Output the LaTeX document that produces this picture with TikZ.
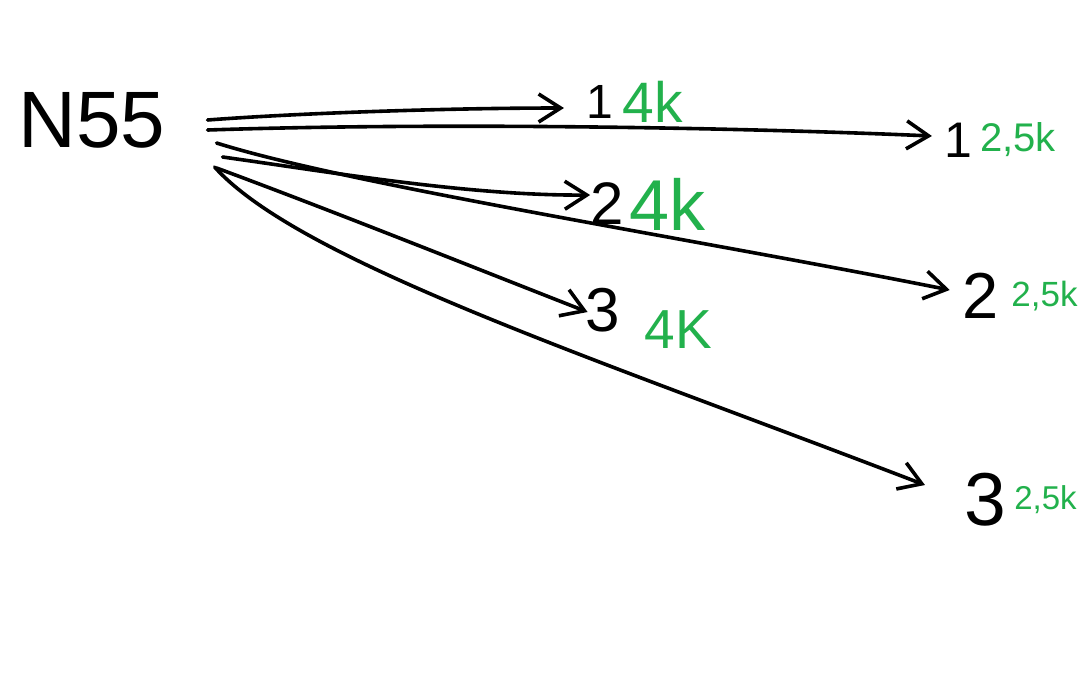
\documentclass[tikz,border=0pt]{standalone}
\usepackage{fontspec}
\setmainfont{Liberation Sans}
\usetikzlibrary{positioning,arrows.meta}
\definecolor{paintgreen}{RGB}{34,177,76}

\tikzset{
  arr/.style={line width=3.6pt, line cap=round, line join=round,
    -{Straight Barb[length=22pt,width=28pt,line width=3.6pt]}},
  digit/.style={inner sep=0pt},
  amount/.style={inner sep=0pt, text=paintgreen},
}

\begin{document}
\begin{tikzpicture}[x=1pt,y=-1pt]
  \useasboundingbox[fill=white] (0,0) rectangle (1083,697);

  % source
  \node[inner sep=0pt, font=\fontsize{80}{80}\selectfont] (n55) at (92,120) {N55};

  % targets, 4k
  \node[digit, font=\fontsize{48}{48}\selectfont] (d1a) at (600,102) {1};
  \node[amount, font=\fontsize{57}{57}\selectfont, right=9pt of d1a] (g1a) {4k};
  \node[digit, font=\fontsize{60}{60}\selectfont] (d2a) at (607,204) {2};
  \node[amount, font=\fontsize{72}{72}\selectfont, right=5pt of d2a] (g2a) {4k};
  \node[digit, font=\fontsize{62}{62}\selectfont] (d3a) at (603,310) {3};
  \node[amount, font=\fontsize{55}{55}\selectfont, right=24pt of d3a, yshift=-20pt] (g3a) {4K};

  % targets, 2,5k
  \node[digit, font=\fontsize{50}{50}\selectfont] (d1b) at (958,140) {1};
  \node[amount, font=\fontsize{40}{40}\selectfont, right=8pt of d1b] (g1b) {2,5k};
  \node[digit, font=\fontsize{65}{65}\selectfont] (d2b) at (981,296) {2};
  \node[amount, font=\fontsize{35}{35}\selectfont, right=12pt of d2b] (g2b) {2,5k};
  \node[digit, font=\fontsize{75}{75}\selectfont] (d3b) at (985,500) {3};
  \node[amount, font=\fontsize{33}{33}\selectfont, right=8pt of d3b] (g3b) {2,5k};

  % connectors
  \draw[arr] ([shift={(42,0)}]n55.east) .. controls (300,113) and (450,108) .. ([shift={(-22.5,6)}]d1a.west);
  \draw[arr] ([shift={(42,10)}]n55.east) .. controls (450,122) and (750,128) .. ([shift={(-12,-4)}]d1b.west);
  \draw[arr] ([shift={(57,37)}]n55.east) .. controls (330,172) and (470,196) .. ([shift={(0,-9)}]d2a.west);
  \draw[arr] ([shift={(51,23)}]n55.east) .. controls (350,185) and (700,240) .. ([shift={(-13,-6)}]d2b.west);
  \draw[arr] ([shift={(51,48)}]n55.east) .. controls (330,210) and (460,262) .. ([shift={(2,2)}]d3a.west);
  \draw[arr] ([shift={(49,47)}]n55.east) .. controls (300,262) and (600,360) .. ([shift={(-39,-15)}]d3b.west);
\end{tikzpicture}
\end{document}
